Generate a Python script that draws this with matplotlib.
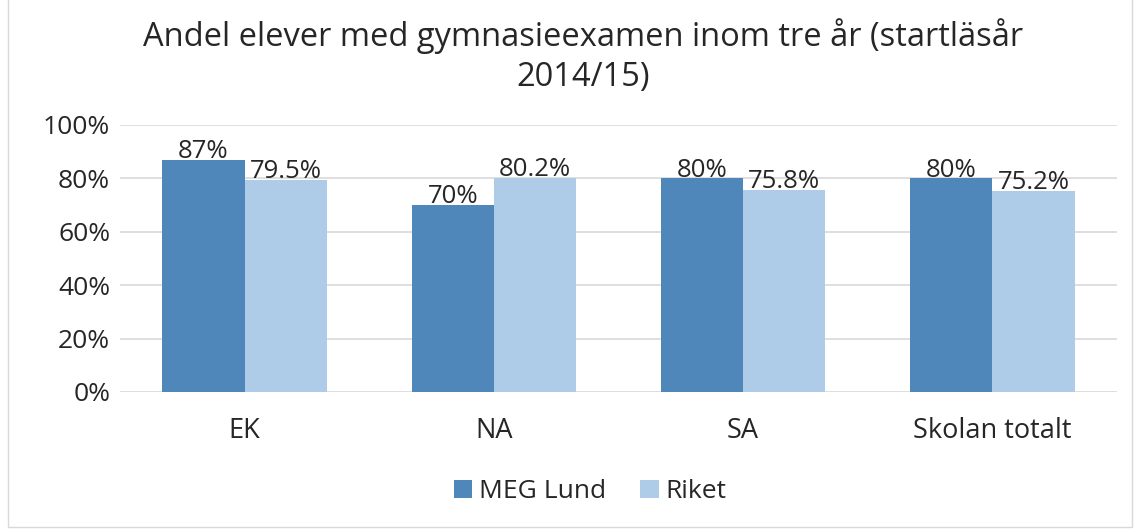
import numpy as np
import matplotlib.pyplot as plt
from matplotlib.patches import Rectangle
from matplotlib.ticker import PercentFormatter

categories = ['EK', 'NA', 'SA', 'Skolan totalt']
meg_lund = [87, 70, 80, 80]
riket = [79.5, 80.2, 75.8, 75.2]
meg_labels = ['87%', '70%', '80%', '80%']
riket_labels = ['79.5%', '80.2%', '75.8%', '75.2%']

plt.rcParams['font.family'] = ['Open Sans', 'DejaVu Sans']

fig = plt.figure(figsize=(11.35, 5.3), dpi=100)
ax = fig.add_axes([0.1057, 0.2604, 0.8784, 0.5038])
fig.patches.append(Rectangle((0.007, 0.005), 0.99, 1.2, transform=fig.transFigure,
                             fill=False, edgecolor='#d9d9d9', linewidth=1))

pos = np.arange(len(categories))
width = 0.33
b1 = ax.bar(pos - width / 2, meg_lund, width, color='#4f87ba', label='MEG Lund', zorder=2)
b2 = ax.bar(pos + width / 2, riket, width, color='#aecbe8', label='Riket', zorder=2)
ax.bar_label(b1, labels=meg_labels, fontsize=18.5, color='#262626', padding=-3)
ax.bar_label(b2, labels=riket_labels, fontsize=18.5, color='#262626', padding=-3)

ax.set_xlim(-0.5, 3.5)
ax.set_ylim(0, 100)
ax.set_yticks(range(0, 101, 20))
ax.yaxis.set_major_formatter(PercentFormatter(decimals=0))
ax.set_xticks(pos)
ax.set_xticklabels(categories, fontsize=19.5)
ax.tick_params(axis='y', length=0, labelsize=19, labelcolor='#262626', pad=7)
ax.tick_params(axis='x', length=0, labelcolor='#262626', pad=18)
ax.grid(axis='y', color='#d9d9d9', linewidth=1.2, zorder=0)
for s in ax.spines.values():
    s.set_visible(False)

fig.suptitle('Andel elever med gymnasieexamen inom tre år (startläsår\n2014/15)',
             fontsize=23.5, color='#262626', x=0.514, y=0.965, linespacing=1.27)
fig.legend(loc='center', bbox_to_anchor=(0.52, 0.072), ncol=2, frameon=False,
           fontsize=19, handlelength=0.7, handleheight=0.7, handletextpad=0.25,
           columnspacing=1.3, labelcolor='#262626')

plt.savefig('out.png')
